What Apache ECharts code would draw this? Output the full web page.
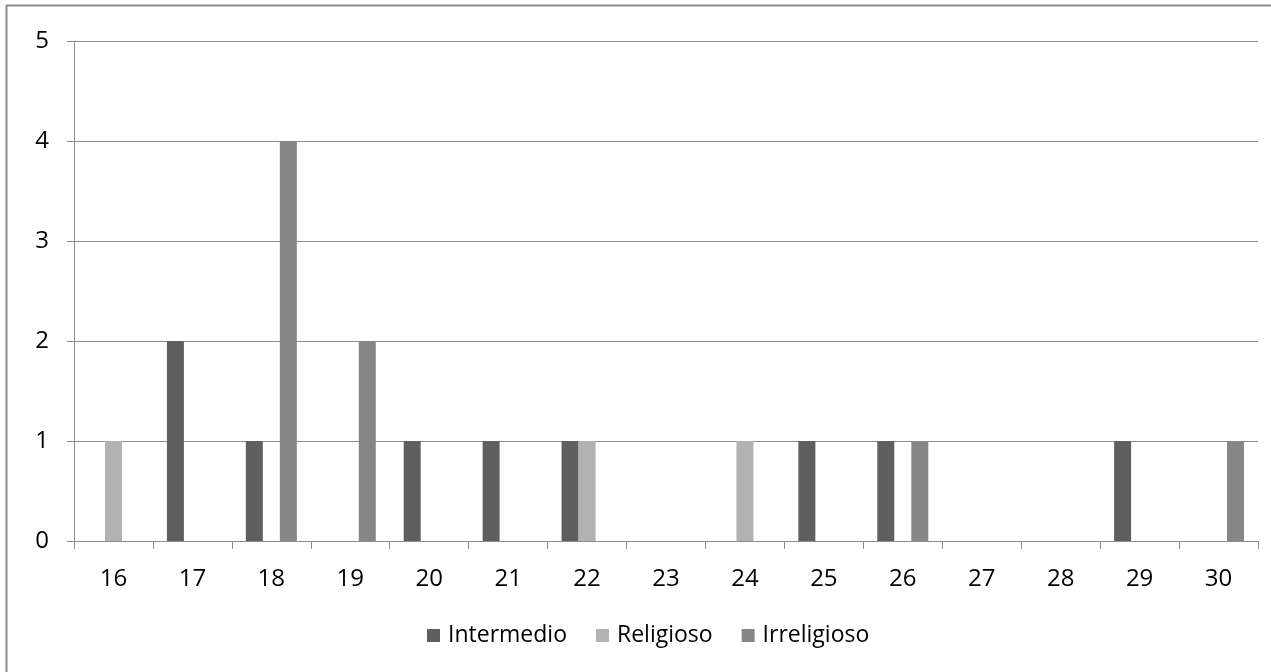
<!DOCTYPE html>
<html>
<head>
<meta charset="utf-8">
<script src="https://cdn.jsdelivr.net/npm/echarts@6/dist/echarts.min.js"></script>
<style>
html,body{margin:0;padding:0;background:#fff;}
#main{width:1271px;height:672px;}
</style>
</head>
<body>
<div id="main"></div>
<script>
const categories = ['16','17','18','19','20','21','22','23','24','25','26','27','28','29','30'];
const intermedio  = [0,2,1,0,1,1,1,0,0,1,1,0,0,1,0];
const religioso   = [1,0,0,0,0,0,1,0,1,0,0,0,0,0,0];
const irreligioso = [0,0,4,2,0,0,0,0,0,0,1,0,0,0,1];
const seriesNames = ['Intermedio','Religioso','Irreligioso'];
const colors = ['#5f5f5f','#b2b2b2','#868686'];

const chart = echarts.init(document.getElementById('main'), null, {renderer:'canvas'});
const font = '"Open Sans", "DejaVu Sans", sans-serif';
function mk(i, data){
  return {name: seriesNames[i], type:'bar', data: data, barWidth:17, barGap:'0%',
    itemStyle:{color:colors[i]}, emphasis:{disabled:true}};
}
chart.setOption({
  animation:false,
  backgroundColor:'#fff',
  graphic:[
    {type:'line', shape:{x1:6.5,y1:5,x2:6.5,y2:672}, style:{stroke:'#8c8c8c', lineWidth:2}},
    {type:'line', shape:{x1:6,y1:5.5,x2:1271,y2:5.5}, style:{stroke:'#8c8c8c', lineWidth:2}}
  ],
  grid:{left:74, right:13, top:41, bottom:131, containLabel:false},
  legend:{bottom:20, left:422, itemWidth:13, itemHeight:13, itemGap:29,
    icon:'rect', textStyle:{fontFamily:font, fontSize:23, color:'#000', padding:[0,0,0,3]},
    data: seriesNames},
  xAxis:{type:'category', data:categories,
    axisLine:{lineStyle:{color:'#8c8c8c', width:1}},
    axisTick:{show:true, length:8, alignWithLabel:false, lineStyle:{color:'#8c8c8c'}},
    axisLabel:{fontFamily:font, fontSize:24, color:'#000', margin:26}},
  yAxis:{type:'value', min:0, max:5, interval:1,
    axisLine:{show:true, lineStyle:{color:'#8c8c8c'}},
    axisTick:{show:true, length:7, lineStyle:{color:'#8c8c8c'}},
    splitLine:{lineStyle:{color:'#8c8c8c', width:1}},
    axisLabel:{fontFamily:font, fontSize:24, color:'#000', margin:25}},
  series:[mk(0,intermedio), mk(1,religioso), mk(2,irreligioso)]
});
</script>
</body>
</html>
